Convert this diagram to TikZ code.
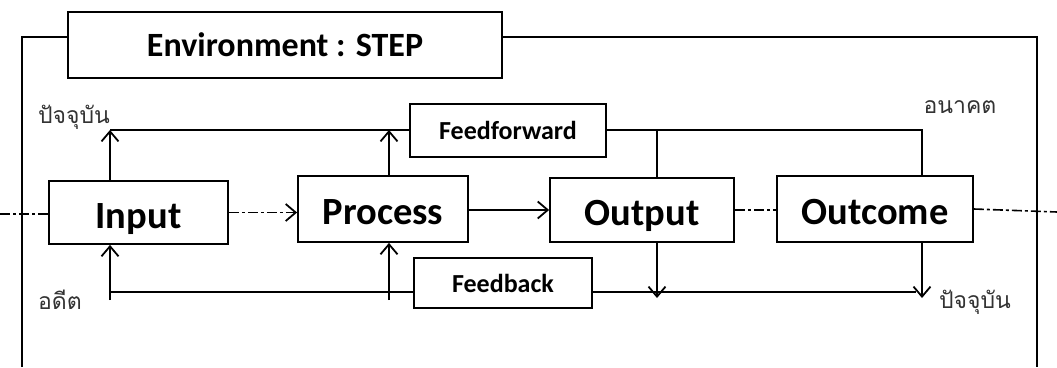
\documentclass[tikz,border=0pt]{standalone}
\usepackage{fontspec}
\setmainfont{Carlito}
\newfontfamily\thaifont[Script=Thai]{Loma}
\usetikzlibrary{arrows.meta}
\begin{document}
\begin{tikzpicture}[x=1pt,y=-1pt,
  line width=1.8pt,
  >={Straight Barb[length=10pt,width=17pt,line width=1.8pt]},
  blk/.style={draw, fill=white, inner sep=0pt, text height=38pt, text depth=7pt, font=\bfseries\fontsize{38.5}{40}\selectfont},
  lbl/.style={draw, fill=white, inner sep=0pt, font=\bfseries\fontsize{26}{28}\selectfont},
  thai/.style={inner sep=0pt, font=\thaifont\fontsize{23}{25}\selectfont, text=black!80},
  dd/.style={dash pattern=on 10pt off 3pt on 3pt off 3pt, line width=1.6pt}]
\useasboundingbox (0,0) rectangle (1057,367);
% frame
\draw (22,367) -- (22,37) -- (1037,37) -- (1037,367);
\node[draw, fill=white, minimum width=434pt, minimum height=66pt, inner sep=0pt,
  font=\bfseries\fontsize{34}{36}\selectfont] (env) at (285,45) {Environment : STEP};
% blocks
\node[blk, minimum width=179pt, minimum height=63pt] (input) at (138.5,212.5) {Input};
\node[blk, minimum width=170pt, minimum height=66pt] (process) at (383,209) {Process};
\node[blk, minimum width=184pt, minimum height=64pt] (output) at (642,210) {Output};
\node[blk, minimum width=196pt, minimum height=66pt] (outcome) at (875,209) {Outcome};
\node[lbl, minimum width=196pt, minimum height=53pt] (ff) at (508,130.5) {Feedforward};
\node[lbl, minimum width=178pt, minimum height=50pt] (fb) at (503,283) {Feedback};
% thai labels
\node[thai] (now1) at (74,117) {ปัจจุบัน};
\node[thai] (past) at (60,300) {อดีต};
\node[thai] (future) at (960,107) {อนาคต};
\node[thai] (now2) at (975,302) {ปัจจุบัน};
% coordinates
\coordinate (ta) at (110,130);
\coordinate (tb) at (389,130);
\coordinate (tc) at (657,130);
\coordinate (td) at (922,130);
\coordinate (ba) at (110,292);
\coordinate (bae) at (110,300);
\coordinate (bb) at (389,300);
\coordinate (bc) at (657,298);
\coordinate (bd) at (922,298);
\coordinate (be) at (916,292);
\coordinate (dl) at (0,214);
\coordinate (dr) at (1057,212);
% dash-dot axis
\draw[dd] (dl) -- (input.west |- dl);
\draw[dd,->] (input.east) -- (process.west |- input.east);
\draw[dd] (output.east) -- (outcome.west |- output.east);
\draw[dd] (outcome.east) -- (dr);
\draw[->] (process.east |- output.west) -- (output.west);
% top lines
\draw[->] (ta |- input.north) -- (ta);
\draw (ta) -- (ff.west |- ta);
\draw[->] (tb |- process.north) -- (tb);
\draw (ff.east |- td) -- (td) -- (td |- outcome.north);
\draw (tc) -- (tc |- output.north);
% bottom lines
\draw (ba) -- (fb.west |- ba);
\draw (fb.east |- be) -- (be);
\draw[->] (bae) -- (ta |- input.south);
\draw[->] (bb) -- (tb |- process.south);
\draw[->] (tc |- output.south) -- (bc);
\draw[->] (td |- outcome.south) -- (bd);
\end{tikzpicture}
\end{document}
